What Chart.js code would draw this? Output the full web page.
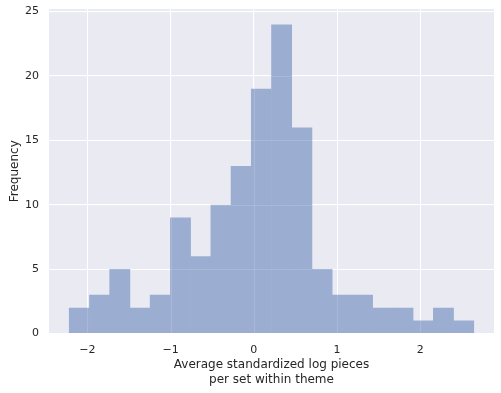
<!DOCTYPE html>
<html>
<head>
<meta charset="utf-8">
<script src="https://cdn.jsdelivr.net/npm/chart.js@4.4.0/dist/chart.umd.min.js"></script>
<style>
  html, body { margin: 0; padding: 0; background: #ffffff; }
  #wrap { width: 501px; height: 393px; }
</style>
</head>
<body>
<div id="wrap"><canvas id="hist" width="501" height="393"></canvas></div>
<script>
// histogram bins (left edge of first bin, common width) and counts
const binStart = -2.219;
const binWidth = 0.2431;
const counts = [2, 3, 5, 2, 3, 9, 6, 10, 13, 19, 24, 16, 5, 3, 3, 2, 2, 1, 2, 1];
const xTicks = [-2, -1, 0, 1, 2];
const yTicks = [0, 5, 10, 15, 20, 25];

const xMin = -2.462, xMax = 2.886;
const yMax = 25.2;

const points = counts.map((c, i) => ({ x: binStart + binWidth * (i + 0.5), y: c }));

const plotBg = {
  id: "plotBg",
  beforeDraw(chart) {
    const { ctx, chartArea: a } = chart;
    ctx.save();
    ctx.fillStyle = "#eaeaf2";
    ctx.fillRect(a.left, a.top, a.right - a.left, a.bottom - a.top);
    ctx.restore();
  },
  // grid shows faintly through the half transparent bars
  afterDatasetsDraw(chart) {
    const { ctx, chartArea: a, scales } = chart;
    ctx.save();
    ctx.strokeStyle = "rgba(255, 255, 255, 0.13)";
    ctx.lineWidth = 1;
    ctx.beginPath();
    xTicks.forEach((v) => {
      const px = Math.round(scales.x.getPixelForValue(v)) + 0.5;
      ctx.moveTo(px, a.top);
      ctx.lineTo(px, a.bottom);
    });
    yTicks.forEach((v) => {
      const py = Math.round(scales.y.getPixelForValue(v)) + 0.5;
      ctx.moveTo(a.left, py);
      ctx.lineTo(a.right, py);
    });
    ctx.stroke();
    ctx.restore();
  },
};

const fontFamily = "'DejaVu Sans', sans-serif";
const dark = "#262626";

new Chart(document.getElementById("hist"), {
  type: "bar",
  data: {
    datasets: [
      {
        data: points,
        backgroundColor: "rgb(155, 174, 209)",
        borderWidth: 0,
        barPercentage: 1.03,
        categoryPercentage: 1,
      },
    ],
  },
  options: {
    responsive: false,
    animation: false,
    layout: { padding: { left: 0, right: 7, top: 9, bottom: 0 } },
    plugins: { legend: { display: false }, tooltip: { enabled: false } },
    scales: {
      x: {
        type: "linear",
        min: xMin,
        max: xMax,
        offset: false,
        grid: { color: "#ffffff", lineWidth: 1, drawTicks: false, offset: false },
        border: { display: false },
        afterBuildTicks(scale) {
          scale.ticks = xTicks.map((v) => ({ value: v }));
        },
        afterFit(scale) {
          scale.height = 59.5;
          scale.paddingLeft = 0;
          scale.paddingRight = 0;
        },
        ticks: {
          padding: 10,
          color: dark,
          font: { family: fontFamily, size: 11 },
          callback: (v) => String(v).replace("-", "\u2212"),
        },
        title: {
          display: true,
          text: ["Average standardized log pieces", "per set within theme"],
          color: dark,
          font: { family: fontFamily, size: 12, lineHeight: 1.22 },
          padding: { top: 0, bottom: 6 },
        },
      },
      y: {
        min: 0,
        max: yMax,
        grid: { color: "#ffffff", lineWidth: 1, drawTicks: false },
        border: { display: false },
        afterBuildTicks(scale) {
          scale.ticks = yTicks.map((v) => ({ value: v }));
        },
        afterFit(scale) {
          scale.width = 49;
          scale.paddingTop = 0;
          scale.paddingBottom = 0;
        },
        ticks: {
          padding: 10,
          color: dark,
          font: { family: fontFamily, size: 11 },
        },
        title: {
          display: true,
          text: "Frequency",
          color: dark,
          font: { family: fontFamily, size: 12 },
          padding: { top: 8, bottom: 0 },
        },
      },
    },
  },
  plugins: [plotBg],
});
</script>
</body>
</html>
